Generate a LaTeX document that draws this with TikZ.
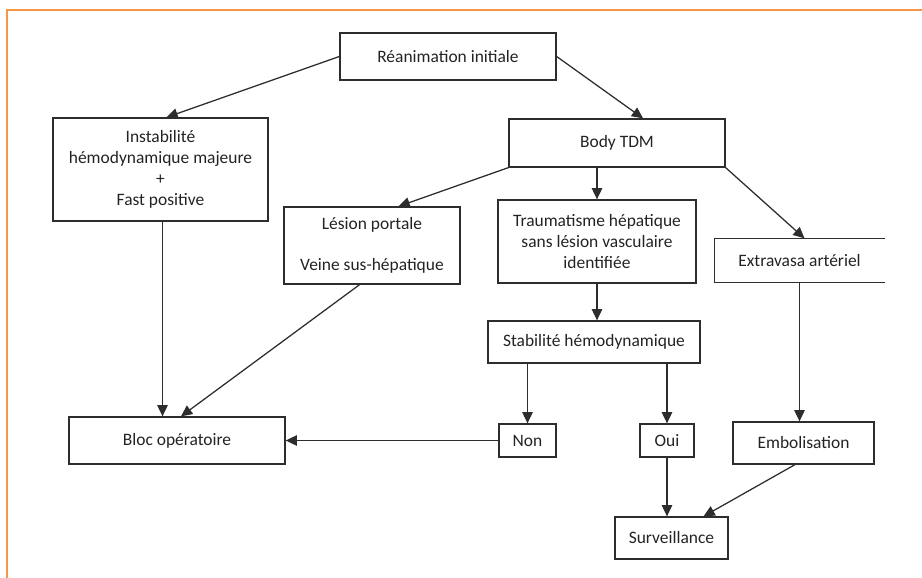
\documentclass[tikz,border=0pt]{standalone}
\usepackage{fontspec}
\setmainfont{Carlito}
\usetikzlibrary{positioning,arrows.meta,calc}
\definecolor{frameclr}{RGB}{247,150,70}
\definecolor{lineclr}{RGB}{45,45,45}
\definecolor{txtclr}{RGB}{35,35,35}
\tikzset{
  box/.style={draw=lineclr,line width=0.9pt,align=center,inner sep=2pt,
              text=txtclr,font=\fontsize{12.4}{14.8}\selectfont},
  openbox/.style={box,draw=none},
  edge/.style={-{Triangle[length=2.8mm,width=2.6mm]},draw=lineclr,line width=0.9pt},
}
\begin{document}
\begin{tikzpicture}[x=0.025cm,y=-0.025cm]
\useasboundingbox (0,0) rectangle (922,578);
\draw[frameclr,line width=1.4pt] (7,578) -- (7,10) -- (922,10);

\node[box,minimum width=5.4cm,minimum height=1.175cm] (rean) at (448,56.5)
      {Réanimation initiale};
\node[box,minimum width=5.375cm,minimum height=2.575cm] (instab) at (160.5,169.5)
      {Instabilité\\hémodynamique majeure\\+\\Fast positive};
\node[box,minimum width=5.4cm,minimum height=1.2cm] (body) at (617,143)
      {Body TDM};
\node[box,minimum width=4.4cm,minimum height=1.925cm] (lesion) at (372,245.5)
      {Lésion portale\\[\baselineskip]Veine sus-hépatique};
\node[box,minimum width=4.95cm,minimum height=2.075cm] (traum) at (597,241.5)
      {Traumatisme hépatique\\sans lésion vasculaire\\identifiée};
\node[openbox,minimum width=4.225cm,minimum height=1.075cm] (ext) at (799.5,260.5)
      {Extravasa artériel};
\draw[lineclr,line width=0.9pt] (ext.north east) -- (ext.north west)
      -- (ext.south west) -- (ext.south east);
\node[box,minimum width=5.3cm,minimum height=1.05cm] (stab) at (594,342)
      {Stabilité hémodynamique};
\node[box,minimum width=5.4cm,minimum height=1.175cm] (bloc) at (177,440.5)
      {Bloc opératoire};
\node[box,minimum width=1.425cm,minimum height=0.825cm] (non) at (527.5,440.5)
      {Non};
\node[box,minimum width=1.35cm,minimum height=0.825cm] (oui) at (667,440.5)
      {Oui};
\node[box,minimum width=3.525cm,minimum height=1.05cm] (emb) at (803.5,443)
      {Embolisation};
\node[box,minimum width=2.825cm,minimum height=1.05cm] (surv) at (671.5,538)
      {Surveillance};

% arrows
\coordinate (instabout) at ($(instab.south)+(2,0)$);
\draw[edge] (rean.west) -- ($(instab.north)+(6,0)$);
\draw[edge] (rean.east) -- ($(body.north west)!0.62!(body.north east)$);
\draw[edge] (body.south west) -- ($(lesion.north west)!0.65!(lesion.north east)$);
\draw[edge] (body.south -| traum.north) -- (traum.north);
\draw[edge] (body.south east) -- ($(ext.north)+(5,0)$);
\draw[edge] (instabout) -- (instabout |- bloc.north);
\draw[edge] ($(lesion.south west)!0.43!(lesion.south east)$) -- ($(bloc.north)+(4,0)$);
\draw[edge] (traum.south) -- (traum.south |- stab.north);
\draw[edge] (stab.south -| non.north) -- (non.north);
\draw[edge] (stab.south -| oui.north) -- (oui.north);
\draw[edge] (non.west) -- (bloc.east);
\draw[edge] (ext.south) -- (ext.south |- emb.north);
\draw[edge] (oui.south) -- (oui.south |- surv.north);
\draw[edge] ($(emb.south west)!0.44!(emb.south east)$) -- ($(surv.north west)!0.78!(surv.north east)$);
\end{tikzpicture}
\end{document}
